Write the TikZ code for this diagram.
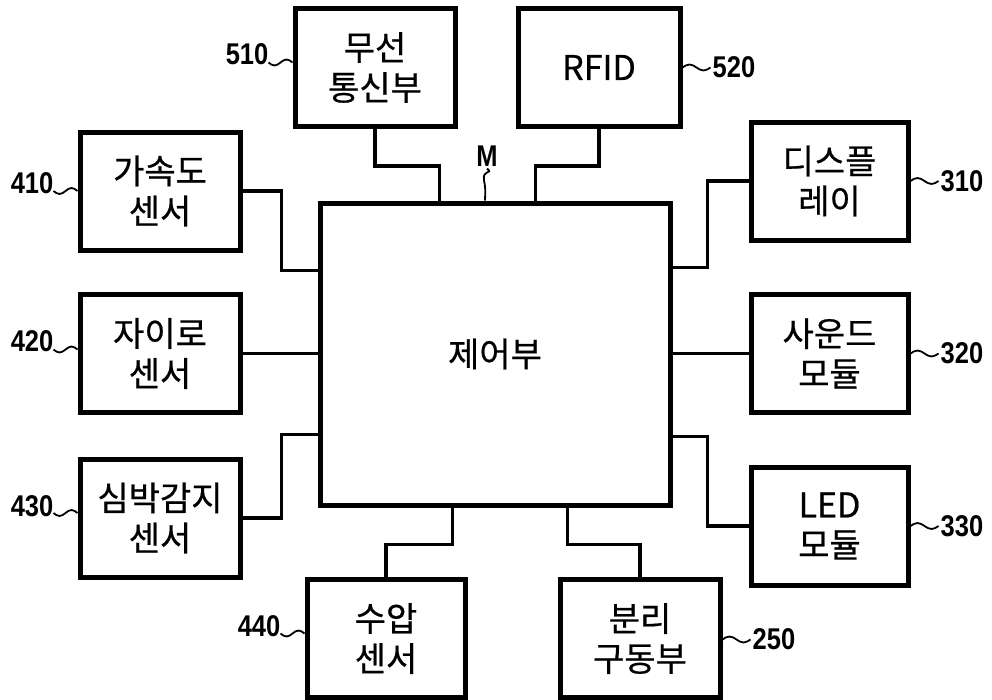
\documentclass[tikz,border=0pt]{standalone}
\usepackage{fontspec}
\newfontfamily\kr[FakeBold=0.6]{Noto Sans CJK KR}
\newfontfamily\numf[FakeStretch=0.85]{Liberation Sans}
\begin{document}
\begin{tikzpicture}[x=1pt,y=-1pt,
  blk/.style={draw,line width=5pt,inner sep=0pt,minimum width=160pt,minimum height=118pt,
    align=center,font=\kr\fontsize{34}{40}\selectfont},
  wire/.style={line width=3.4pt,line join=miter},
  tl/.style={line width=1.8pt},
  num/.style={inner sep=0pt,font=\numf\bfseries\fontsize{30}{32}\selectfont}]
\useasboundingbox (0,0) rectangle (992,699);
% main
\node[blk,minimum width=350pt,minimum height=302pt] (main) at (495,354) {제어부};
% boxes
\node[blk] (wl) at (375,67.5) {무선\\통신부};
\node[blk,minimum width=162pt] (rfid) at (599,67.5) {RFID};
\node[blk] (acc) at (160,191) {가속도\\센서};
\node[blk] (gyro) at (160,353.5) {자이로\\센서};
\node[blk] (hr) at (160,518) {심박감지\\센서};
\node[blk,minimum width=158pt] (wp) at (386,638.5) {수압\\센서};
\node[blk] (sep) at (640,638.5) {분리\\구동부};
\node[blk,minimum width=157pt] (disp) at (829.5,181) {디스플\\레이};
\node[blk,minimum width=157pt] (snd) at (829.5,353.5) {사운드\\모듈};
\node[blk,minimum width=157pt] (led) at (829.5,526) {LED\\모듈};
% connectors
\draw[wire] (wl.south) -- ++(0,37) -| ([xshift=122pt]main.north west);
\draw[wire] (rfid.south) -- ++(0,37) -| ([xshift=218pt]main.north west);
\draw[wire] (acc.east) -- ++(39,0) |- ([yshift=-70pt]main.north west);
\draw[wire] (gyro.east) -- (gyro.east -| main.west);
\draw[wire] (hr.east) -- ++(39,0) |- ([yshift=73pt]main.south west);
\draw[wire] ([xshift=135pt]main.south west) -- ++(0,37) -| (wp.north);
\draw[wire] ([xshift=250pt]main.south west) -- ++(0,37) -| (sep.north);
\draw[wire] (disp.west) -- ++(-41,0) |- ([yshift=-67pt]main.north east);
\draw[wire] (snd.west) -- (snd.west -| main.east);
\draw[wire] (led.west) -- ++(-41,0) |- ([yshift=71pt]main.south east);
% left-side reference labels
\draw[tl] ([yshift=5pt]wl.west) sin ++(-6,-3) cos ++(-6,3) sin ++(-6,3) cos ++(-6,-3) coordinate (t510);
\node[num,anchor=base east] (l510) at ([yshift=-2pt]t510) {510};
\draw[tl] (acc.west) sin ++(-6,-3) cos ++(-6,3) sin ++(-6,3) cos ++(-6,-3) coordinate (t410);
\node[num,anchor=base east] (l410) at ([yshift=-2pt]t410) {410};
\draw[tl] ([yshift=4pt]gyro.west) sin ++(-6,-3) cos ++(-6,3) sin ++(-6,3) cos ++(-6,-3) coordinate (t420);
\node[num,anchor=base east] (l420) at ([yshift=-2pt]t420) {420};
\draw[tl] ([yshift=5pt]hr.west) sin ++(-6,-3) cos ++(-6,3) sin ++(-6,3) cos ++(-6,-3) coordinate (t430);
\node[num,anchor=base east] (l430) at ([yshift=-3pt]t430) {430};
\draw[tl] ([yshift=5pt]wp.west) sin ++(-6,-3) cos ++(-6,3) sin ++(-6,3) cos ++(-6,-3) coordinate (t440);
\node[num,anchor=base east] (l440) at ([yshift=-3pt]t440) {440};
% right-side reference labels
\draw[tl] (rfid.east) sin ++(7,-3) cos ++(7,3) sin ++(7,3) cos ++(7,-3) coordinate (t520);
\node[num,anchor=west] (l520) at ([xshift=2pt]t520) {520};
\draw[tl] (disp.east) sin ++(7,-3) cos ++(7,3) sin ++(7,3) cos ++(7,-3) coordinate (t310);
\node[num,anchor=west] (l310) at ([xshift=2pt]t310) {310};
\draw[tl] (snd.east) sin ++(7,-3) cos ++(7,3) sin ++(7,3) cos ++(7,-3) coordinate (t320);
\node[num,anchor=west] (l320) at ([xshift=2pt]t320) {320};
\draw[tl] (led.east) sin ++(7,-3) cos ++(7,3) sin ++(7,3) cos ++(7,-3) coordinate (t330);
\node[num,anchor=west] (l330) at ([xshift=2pt]t330) {330};
\draw[tl] ([yshift=-1pt]sep.east) sin ++(7,-3) cos ++(7,3) sin ++(7,3) cos ++(7,-3) coordinate (t250);
\node[num,anchor=west] (l250) at ([xshift=2pt]t250) {250};
% M label
\node[num] (mlab) at (487,156) {M};
\coordinate (mend) at ([xshift=-10pt]main.north);
\draw[tl] ([yshift=-2pt]mlab.south) .. controls +(7,6) and +(-2,-12) .. ++(-3,12) .. controls +(2,8) and +(0,-4) .. (mend);
\end{tikzpicture}
\end{document}
